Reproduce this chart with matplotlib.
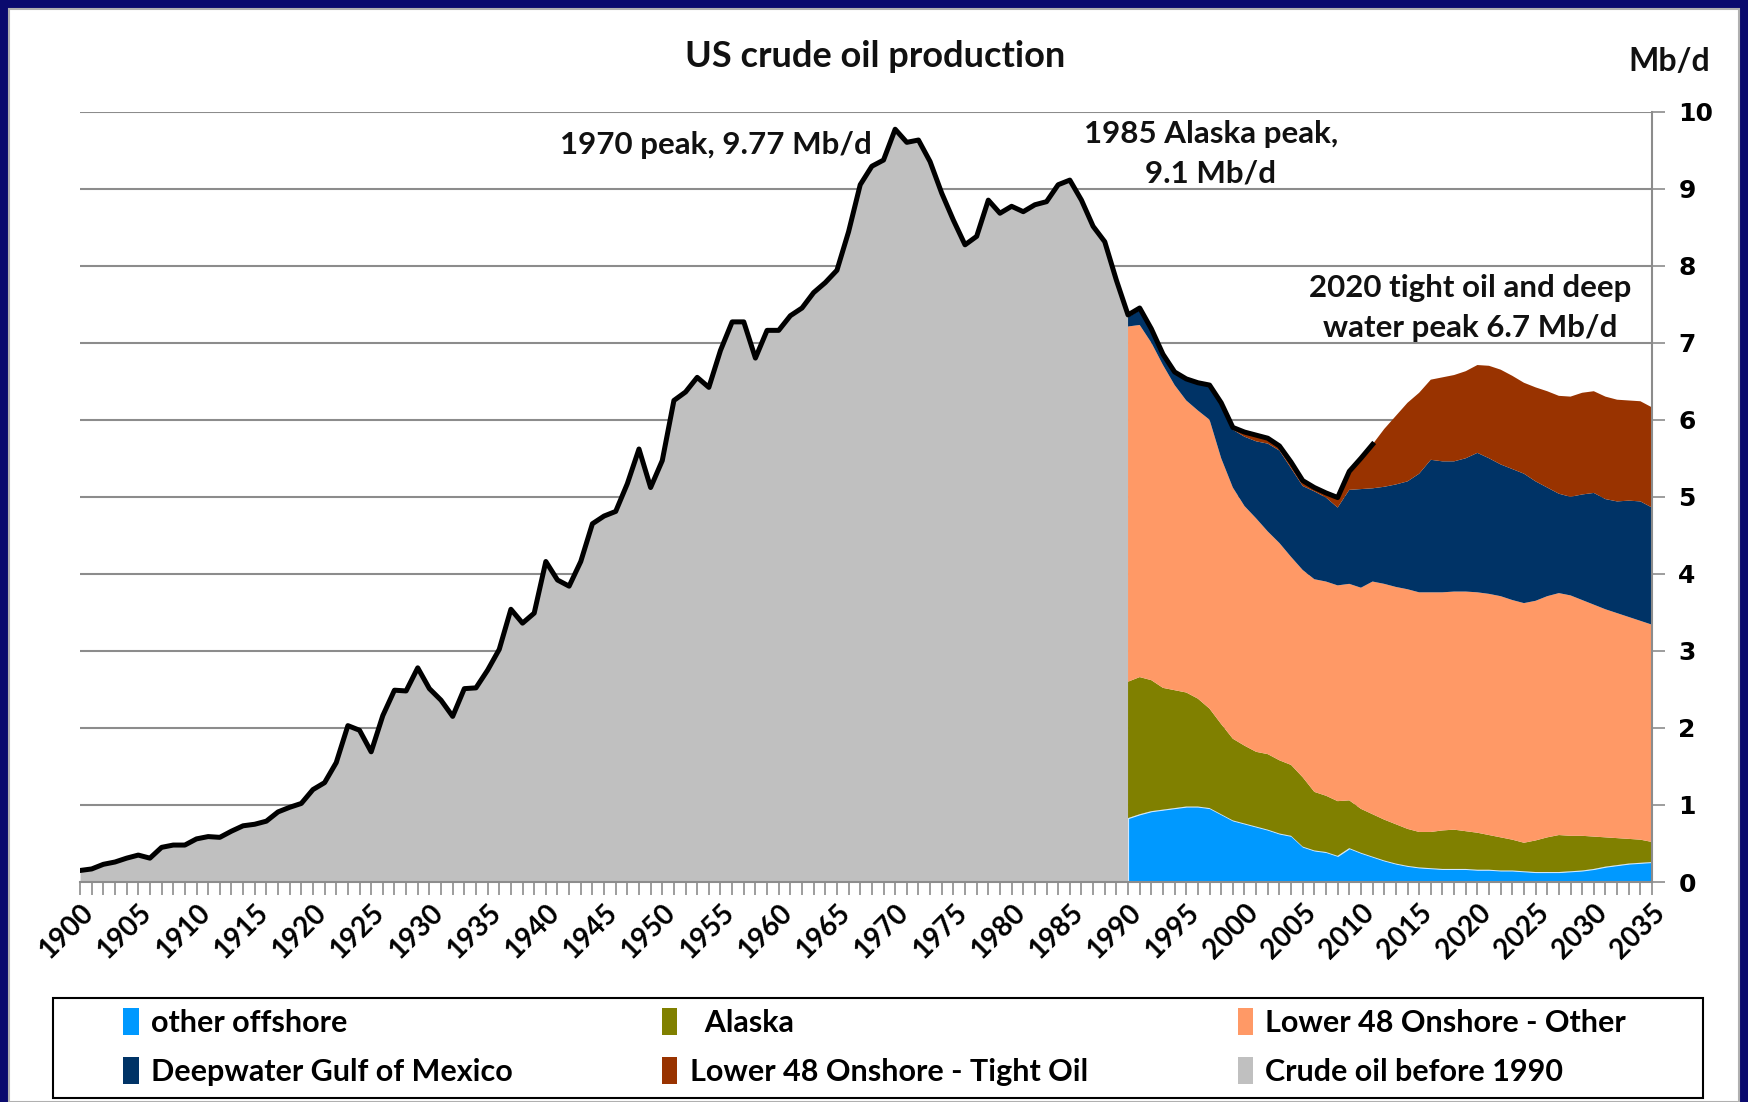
import matplotlib
matplotlib.use("Agg")
import matplotlib.pyplot as plt
from matplotlib.patches import Patch, Rectangle
import numpy as np

# total US production, 1900-2011 (Mb/d)
line_years = np.arange(1900, 2012)
us_total = [
    0.15, 0.17, 0.23, 0.26, 0.31, 0.35, 0.31, 0.45, 0.48, 0.48,
    0.56, 0.59, 0.58, 0.66, 0.73, 0.75, 0.79, 0.91, 0.97, 1.02,
    1.20, 1.29, 1.55, 2.03, 1.97, 1.69, 2.16, 2.49, 2.48, 2.78,
    2.51, 2.36, 2.15, 2.51, 2.52, 2.75, 3.02, 3.54, 3.36, 3.49,
    4.16, 3.92, 3.84, 4.16, 4.65, 4.75, 4.81, 5.17, 5.62, 5.12,
    5.47, 6.25, 6.36, 6.55, 6.42, 6.90, 7.27, 7.27, 6.80, 7.16,
    7.16, 7.35, 7.45, 7.65, 7.78, 7.94, 8.44, 9.05, 9.29, 9.37,
    9.77, 9.60, 9.63, 9.35, 8.94, 8.59, 8.27, 8.38, 8.85, 8.68,
    8.77, 8.70, 8.79, 8.83, 9.05, 9.11, 8.85, 8.51, 8.31, 7.81,
    7.36, 7.45, 7.18, 6.85, 6.62, 6.53, 6.48, 6.45, 6.22, 5.90,
    5.84, 5.80, 5.76, 5.66, 5.45, 5.21, 5.12, 5.05, 4.99, 5.33,
    5.50, 5.68,
]

# components 1990-2035
proj_years = np.arange(1990, 2036)
other_offshore = [
    0.83, 0.88, 0.92, 0.94, 0.96, 0.98, 0.98, 0.96, 0.88, 0.80,
    0.76, 0.72, 0.68, 0.63, 0.60, 0.46, 0.41, 0.39, 0.34, 0.44,
    0.38, 0.33, 0.28, 0.24, 0.21, 0.19, 0.18, 0.17, 0.17, 0.17,
    0.16, 0.16, 0.15, 0.15, 0.14, 0.13, 0.13, 0.13, 0.14, 0.15,
    0.17, 0.20, 0.22, 0.24, 0.25, 0.26,
]
alaska = [
    1.77, 1.78, 1.70, 1.58, 1.53, 1.48, 1.40, 1.29, 1.17, 1.06,
    1.01, 0.97, 0.98, 0.95, 0.92, 0.90, 0.76, 0.73, 0.71, 0.62,
    0.57, 0.55, 0.53, 0.51, 0.48, 0.46, 0.47, 0.50, 0.51, 0.49,
    0.48, 0.45, 0.43, 0.40, 0.37, 0.41, 0.45, 0.48, 0.46, 0.45,
    0.42, 0.38, 0.35, 0.32, 0.30, 0.26,
]
l48_other = [
    4.61, 4.57, 4.38, 4.19, 3.96, 3.79, 3.74, 3.75, 3.45, 3.26,
    3.11, 3.03, 2.89, 2.82, 2.70, 2.69, 2.76, 2.78, 2.80, 2.81,
    2.87, 3.02, 3.06, 3.08, 3.11, 3.11, 3.11, 3.09, 3.09, 3.11,
    3.12, 3.13, 3.13, 3.11, 3.11, 3.11, 3.13, 3.14, 3.12, 3.06,
    3.01, 2.96, 2.92, 2.88, 2.84, 2.82,
]
deepwater = [
    0.12, 0.19, 0.16, 0.12, 0.15, 0.26, 0.34, 0.43, 0.70, 0.75,
    0.90, 1.00, 1.14, 1.20, 1.15, 1.09, 1.14, 1.09, 1.01, 1.22,
    1.28, 1.21, 1.26, 1.33, 1.40, 1.54, 1.72, 1.70, 1.69, 1.73,
    1.81, 1.76, 1.71, 1.70, 1.68, 1.55, 1.41, 1.29, 1.28, 1.37,
    1.45, 1.43, 1.45, 1.51, 1.55, 1.52,
]
tight_oil = [
    0.00, 0.00, 0.00, 0.00, 0.00, 0.01, 0.01, 0.01, 0.01, 0.02,
    0.06, 0.08, 0.07, 0.06, 0.08, 0.07, 0.05, 0.06, 0.13, 0.24,
    0.40, 0.57, 0.75, 0.89, 1.02, 1.05, 1.04, 1.09, 1.12, 1.13,
    1.14, 1.20, 1.23, 1.21, 1.18, 1.22, 1.25, 1.27, 1.30, 1.32,
    1.32, 1.33, 1.32, 1.30, 1.30, 1.30,
]

labels = ["other offshore", "  Alaska", "Lower 48 Onshore - Other",
          "Deepwater Gulf of Mexico", "Lower 48 Onshore - Tight Oil", "Crude oil before 1990"]
colors = ["#0099FF", "#808000", "#FF9966", "#003366", "#993300", "#C0C0C0"]

navy = "#0a0a6e"
fnt = "Lato"

fig = plt.figure(figsize=(17.48, 11.02), dpi=100, facecolor=navy)
fig.patches.append(Rectangle((0.0051, 0), 0.9897, 0.9918, transform=fig.transFigure,
                             facecolor="white", edgecolor="#b0b0b0", lw=1.5, zorder=-2))
# legend frame
fig.patches.append(Rectangle((0.0303, 0.0036), 0.944, 0.0907, transform=fig.transFigure,
                             facecolor="none", edgecolor="black", lw=1.5, zorder=-1))

ax = fig.add_axes([0.0458, 0.1996, 0.8993, 0.6992])
ax.set_zorder(1)
ax.set_facecolor("none")

hist_mask = line_years <= 1990
ax.fill_between(line_years[hist_mask], 0, np.array(us_total)[hist_mask],
                color=colors[5], lw=0, zorder=2)
layers = ax.stackplot(proj_years, other_offshore, alaska, l48_other, deepwater, tight_oil,
                      colors=colors[:5], lw=0, zorder=2)
layers[0].set_edgecolor("#cfe8ff")
layers[0].set_linewidth(0.8)
ax.plot(line_years, us_total, color="black", lw=3.6, zorder=4, solid_joinstyle="round")

ax.set_xlim(1900, 2035)
ax.set_ylim(0, 10)
ax.yaxis.tick_right()
ax.set_yticks(range(0, 11))
ax.grid(axis="y", color="#8c8c8c", lw=1.5, zorder=1)
ax.set_axisbelow(True)
for s in ["left", "top"]:
    ax.spines[s].set_visible(False)
ax.spines["right"].set_color("#8c8c8c")
ax.spines["bottom"].set_color("#8c8c8c")
ax.spines["right"].set_linewidth(1.5)
ax.spines["bottom"].set_linewidth(1.5)

ax.set_xticks(range(1900, 2036, 5))
ax.set_xticks(range(1900, 2036), minor=True)
ax.tick_params(axis="x", which="both", direction="out", length=9, width=1.2, color="#8c8c8c")
ax.tick_params(axis="y", direction="out", length=9, width=1.2, color="#8c8c8c", pad=10)
ax.set_xticklabels([str(y) for y in range(1900, 2036, 5)], rotation=45, ha="right",
                   rotation_mode="anchor", fontsize=20, fontweight="bold", family=fnt)
for t in ax.get_yticklabels():
    t.set_fontsize(18)
    t.set_fontweight("bold")
    t.set_family("DejaVu Sans")

tkw = dict(fontsize=22.5, fontweight="bold", family=fnt, color="#111111", zorder=5)
ax.text(1968, 9.56, "1970 peak, 9.77 Mb/d", ha="right", va="center", **tkw)
ax.text(1997.1, 9.45, "1985 Alaska peak,\n9.1 Mb/d", ha="center", va="center",
        multialignment="center", linespacing=1.5, **tkw)
ax.text(2019.4, 7.45, "2020 tight oil and deep\nwater peak 6.7 Mb/d", ha="center", va="center",
        multialignment="center", linespacing=1.5, **tkw)

fig.text(0.5006, 0.949, "US crude oil production", ha="center", va="center",
         fontsize=26, fontweight="bold", family=fnt, color="#111111")
fig.text(0.9548, 0.9446, "Mb/d", ha="center", va="center",
         fontsize=23, fontweight="bold", family=fnt, color="#111111")

order = [0, 3, 1, 4, 2, 5]
handles = [Patch(facecolor=colors[i], edgecolor="none", label=labels[i]) for i in order]
leg = fig.legend(handles=handles, ncol=3, loc="center left",
                 bbox_to_anchor=(0.0705, 0.0499), frameon=False,
                 handlelength=0.5, handleheight=1.0, handletextpad=0.4,
                 borderpad=0, borderaxespad=0, labelspacing=0.65, columnspacing=4.9,
                 prop=dict(family=fnt, weight="bold", size=22))

fig.savefig("out.png", dpi=100, facecolor=navy)
